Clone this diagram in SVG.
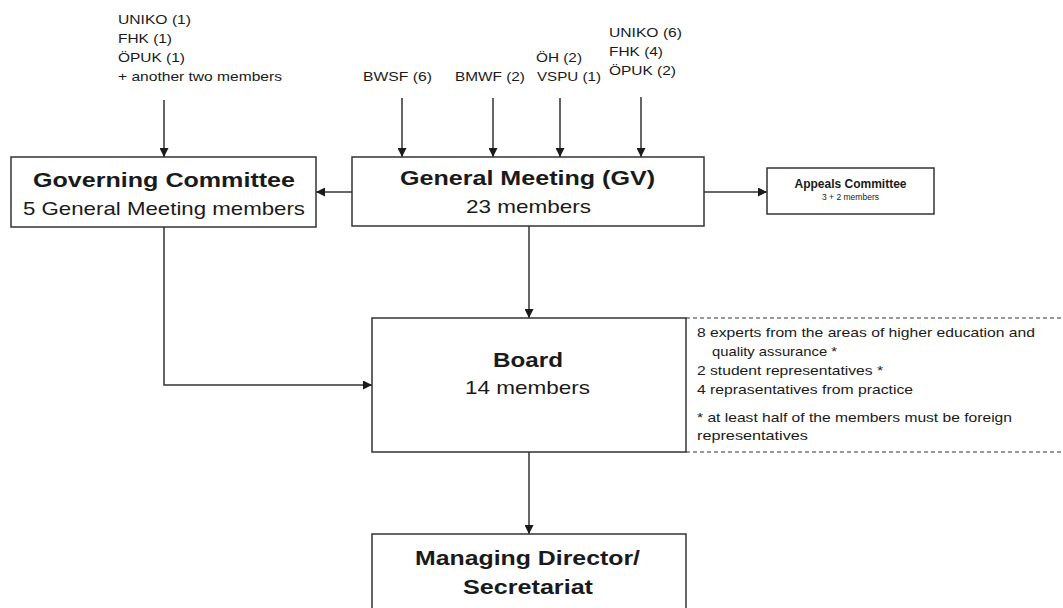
<svg xmlns="http://www.w3.org/2000/svg" width="1063" height="608" viewBox="0 0 1063 608">
<style>
.box{fill:#fff;stroke:#333;stroke-width:1.5}
.c{fill:none;stroke:#333;stroke-width:1.5}
.d{fill:none;stroke:#333;stroke-width:1.2;stroke-dasharray:4 3}
.t{font-family:"Liberation Sans",Arial,sans-serif;fill:#1a1a1a}
.b{font-weight:bold}
.s{font-size:13px}
.n{font-size:13px}
</style>
<defs>
<marker id="ah" viewBox="0 0 10 10" refX="10" refY="5" markerWidth="9" markerHeight="9" markerUnits="userSpaceOnUse" orient="auto">
<path d="M0,0 L10,5 L0,10 z" fill="#1a1a1a"/>
</marker>
</defs>
<rect width="1063" height="608" fill="#fff"/>

<g id="connectors">
<line class="c" x1="164" y1="100" x2="164" y2="157" marker-end="url(#ah)"/>
<line class="c" x1="402" y1="98" x2="402" y2="157" marker-end="url(#ah)"/>
<line class="c" x1="493" y1="98" x2="493" y2="157" marker-end="url(#ah)"/>
<line class="c" x1="560" y1="98" x2="560" y2="157" marker-end="url(#ah)"/>
<line class="c" x1="641" y1="97" x2="641" y2="157" marker-end="url(#ah)"/>
<line class="c" x1="352" y1="192" x2="316" y2="192" marker-end="url(#ah)"/>
<line class="c" x1="704" y1="192" x2="767" y2="192" marker-end="url(#ah)"/>
<line class="c" x1="529" y1="226" x2="529" y2="318" marker-end="url(#ah)"/>
<polyline class="c" points="164,227 164,385 372,385" marker-end="url(#ah)"/>
<line class="c" x1="529" y1="452" x2="529" y2="534" marker-end="url(#ah)"/>
</g>

<g id="labels-top" class="t s">
<text x="118" y="24" textLength="73" lengthAdjust="spacingAndGlyphs">UNIKO  (1)</text>
<text x="118" y="43" textLength="54" lengthAdjust="spacingAndGlyphs">FHK (1)</text>
<text x="118" y="62" textLength="67" lengthAdjust="spacingAndGlyphs">ÖPUK (1)</text>
<text x="118" y="81" textLength="164" lengthAdjust="spacingAndGlyphs">+ another  two  members</text>
<text x="363" y="81" textLength="69" lengthAdjust="spacingAndGlyphs">BWSF (6)</text>
<text x="455" y="81" textLength="70" lengthAdjust="spacingAndGlyphs">BMWF (2)</text>
<text x="536" y="62" textLength="46" lengthAdjust="spacingAndGlyphs">ÖH  (2)</text>
<text x="537" y="81" textLength="64" lengthAdjust="spacingAndGlyphs">VSPU (1)</text>
<text x="609" y="37" textLength="73" lengthAdjust="spacingAndGlyphs">UNIKO  (6)</text>
<text x="609" y="56" textLength="54" lengthAdjust="spacingAndGlyphs">FHK (4)</text>
<text x="609" y="75" textLength="67" lengthAdjust="spacingAndGlyphs">ÖPUK (2)</text>
</g>

<g id="governing">
<rect class="box" x="11" y="157" width="305" height="70"/>
<text class="t b" x="164" y="187" font-size="20" text-anchor="middle" textLength="262" lengthAdjust="spacingAndGlyphs">Governing Committee</text>
<text class="t" x="164" y="215" font-size="19" text-anchor="middle" textLength="282" lengthAdjust="spacingAndGlyphs">5 General Meeting members</text>
</g>

<g id="general-meeting">
<rect class="box" x="352" y="157" width="352" height="69"/>
<text class="t b" x="527.5" y="185" font-size="20" text-anchor="middle" textLength="255" lengthAdjust="spacingAndGlyphs">General Meeting (GV)</text>
<text class="t" x="528.5" y="213" font-size="19" text-anchor="middle" textLength="125" lengthAdjust="spacingAndGlyphs">23 members</text>
</g>

<g id="appeals">
<rect class="box" x="767" y="168" width="167" height="46"/>
<text class="t b" x="850.5" y="188" font-size="12" text-anchor="middle">Appeals Committee</text>
<text class="t" x="850.5" y="200" font-size="8.5" text-anchor="middle">3 + 2 members</text>
</g>

<g id="board">
<rect class="box" x="372" y="318" width="314" height="134"/>
<text class="t b" x="528" y="367" font-size="20" text-anchor="middle" textLength="70" lengthAdjust="spacingAndGlyphs">Board</text>
<text class="t" x="527.5" y="394" font-size="19" text-anchor="middle" textLength="125" lengthAdjust="spacingAndGlyphs">14 members</text>
</g>

<g id="board-note">
<line class="d" x1="686" y1="318" x2="1063" y2="318"/>
<line class="d" x1="686" y1="452" x2="1063" y2="452"/>
<g class="t n">
<text x="697" y="337" textLength="338" lengthAdjust="spacingAndGlyphs">8 experts from the areas of higher education and</text>
<text x="712" y="356" textLength="125" lengthAdjust="spacingAndGlyphs">quality assurance *</text>
<text x="697" y="375" textLength="186" lengthAdjust="spacingAndGlyphs">2 student representatives  *</text>
<text x="697" y="394" textLength="216" lengthAdjust="spacingAndGlyphs">4 reprasentatives  from  practice</text>
<text x="697" y="422" textLength="315" lengthAdjust="spacingAndGlyphs">* at least half of the members must be foreign</text>
<text x="697" y="440" textLength="111" lengthAdjust="spacingAndGlyphs">representatives</text>
</g>
</g>

<g id="managing">
<rect class="box" x="372" y="534" width="314" height="90"/>
<text class="t b" x="527.5" y="565" font-size="20" text-anchor="middle" textLength="225" lengthAdjust="spacingAndGlyphs">Managing Director/</text>
<text class="t b" x="528" y="594" font-size="20" text-anchor="middle" textLength="130" lengthAdjust="spacingAndGlyphs">Secretariat</text>
</g>
</svg>
